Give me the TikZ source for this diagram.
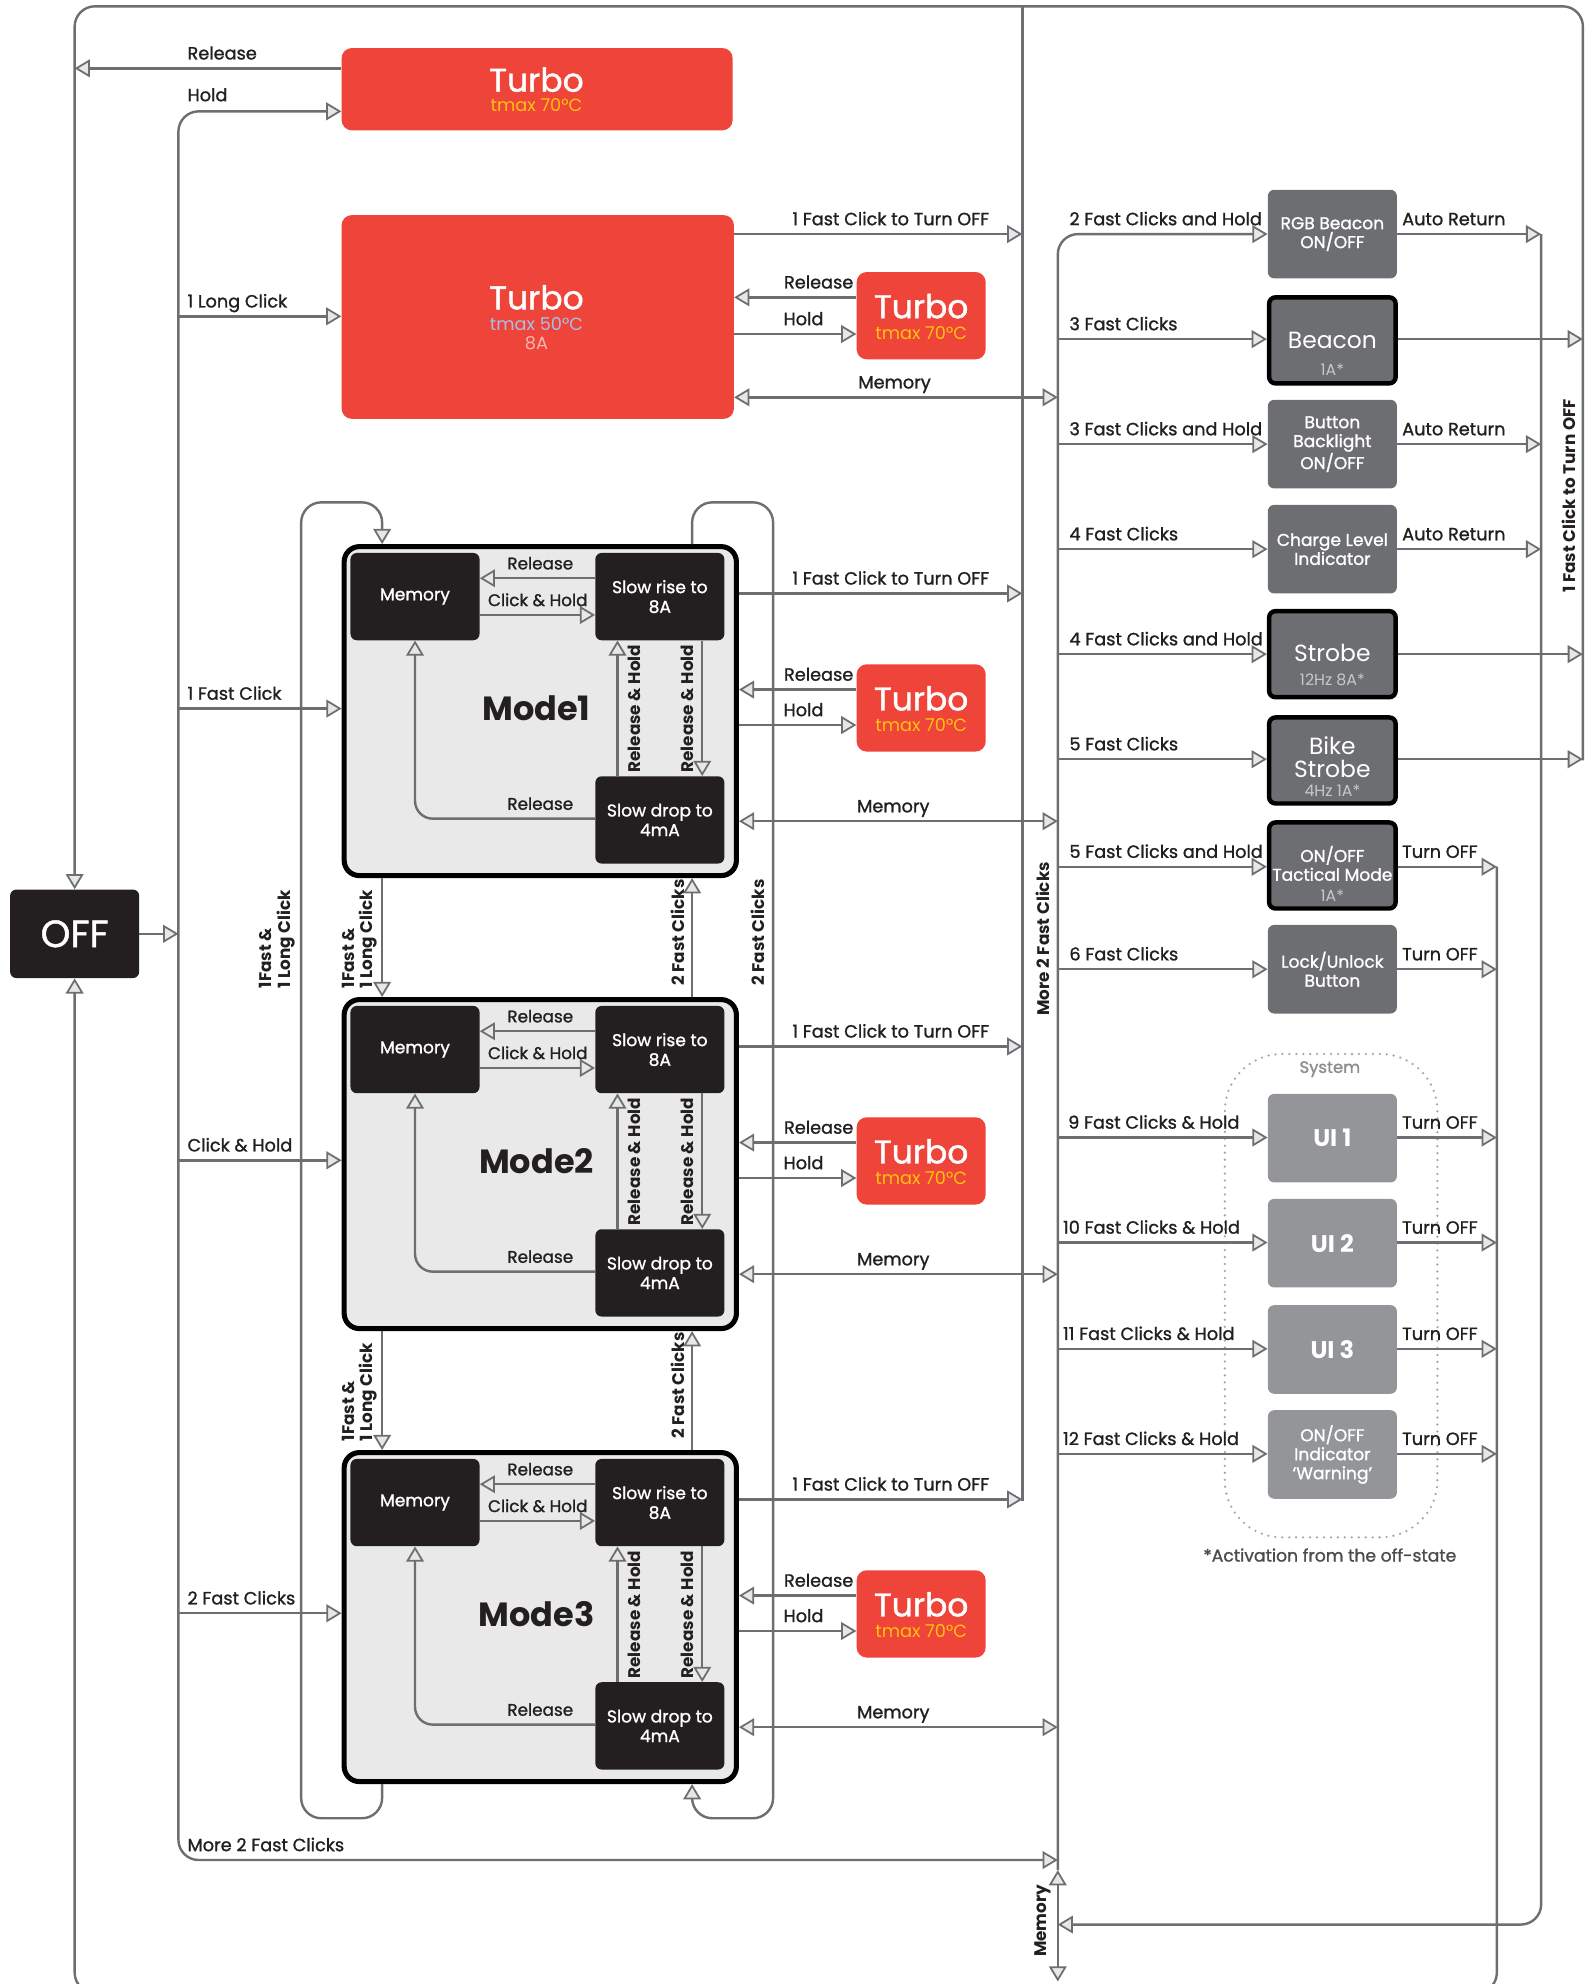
\documentclass[tikz,border=0pt]{standalone}
\usepackage{fontspec}
\setmainfont{Poppins}
\newfontfamily\medfont{Poppins}[FakeBold=1.2]
\usetikzlibrary{arrows.meta}
\definecolor{lineg}{HTML}{6D6E71}
\definecolor{tipfill}{HTML}{E8E6E6}
\definecolor{tred}{HTML}{EE4439}
\definecolor{tyel}{HTML}{FFC20E}
\definecolor{tblue}{HTML}{A7BFE8}
\definecolor{tpink}{HTML}{F8B5AE}
\definecolor{dark}{HTML}{231F20}
\definecolor{midg}{HTML}{6D6E71}
\definecolor{lightg}{HTML}{939598}
\definecolor{modebg}{HTML}{E9E9E9}
\definecolor{subg}{HTML}{C7C8CA}
\tikzset{
  Tp/.tip={Triangle[length=12pt,width=14pt,fill=tipfill,line width=1.4pt]},
  ln/.style={draw=lineg,line width=1.9pt},
  arr/.style={ln,-Tp},
  darr/.style={ln,Tp-Tp},
  lbl/.style={font=\medfont\fontsize{14}{15}\selectfont, text=dark, inner sep=0pt},
  lblin/.style={font=\medfont\fontsize{13.3}{15}\selectfont, text=dark, inner sep=0pt},
  vlbl/.style={font=\fontsize{13.3}{14.5}\selectfont\bfseries, text=dark, inner sep=0pt, rotate=90, align=left},
  redbox/.style={fill=tred, rounded corners=8pt, inner sep=0pt},
  ttl/.style={font=\medfont\fontsize{26}{26}\selectfont, text=white, inner sep=0pt},
  tsub/.style={font=\fontsize{14}{14}\selectfont, inner sep=0pt},
  darkbox/.style={fill=dark, rounded corners=5pt, minimum width=102pt, minimum height=69pt, inner sep=0pt, align=center, text=white, font=\medfont\fontsize{13.5}{15.5}\selectfont},
  gbox/.style={fill=midg, rounded corners=5pt, minimum width=102pt, minimum height=70pt, inner sep=0pt, align=center, text=white, font=\medfont\fontsize{13.5}{15}\selectfont},
  bbox/.style={gbox, draw=black, line width=3.5pt, minimum width=100pt, minimum height=68pt},
  uibox/.style={gbox, fill=lightg, font=\fontsize{19}{20}\selectfont\bfseries},
  bt/.style={font=\fontsize{18.5}{20}\selectfont, text=white, inner sep=0pt},
  bs/.style={font=\fontsize{12.5}{13}\selectfont, text=subg, inner sep=0pt},
  bm/.style={font=\medfont\fontsize{13.5}{15}\selectfont, text=white, inner sep=0pt},
  modebox/.style={draw=black, line width=4pt, fill=modebg, rounded corners=12pt, minimum width=310pt, minimum height=260pt, inner sep=0pt},
}
\begin{document}
\begin{tikzpicture}[x=1pt,y=-1pt]
\useasboundingbox (0,0) rectangle (1261,1568);

% ---------- OFF ----------
\node[fill=dark, rounded corners=5pt, minimum width=102pt, minimum height=70pt, inner sep=0pt, text=white, font=\medfont\fontsize{30}{30}\selectfont] (OFF) at (59,738) {OFF};

% ---------- Turbo boxes ----------
\node[redbox, minimum width=309pt, minimum height=65pt] (turboA) at (424.5,70.5) {};
\node[ttl] (turboAt) at (424,63) {Turbo};
\node[tsub, text=tyel] (turboAs) at (424,83) {tmax 70°C};

\node[redbox, minimum width=310pt, minimum height=161pt] (turboB) at (425,250.5) {};
\node[ttl] (turboBt) at (424,235) {Turbo};
\node[tsub, text=tblue] (turboBs) at (424,256) {tmax 50°C};
\node[tsub, text=tpink] (turboBa) at (424,271) {8A};

\node[redbox, minimum width=102pt, minimum height=69pt] (tS0) at (728,249.5) {};
\node[ttl] (tS0t) at (728,242) {Turbo};
\node[tsub, text=tyel] (tS0s) at (728,263) {tmax 70°C};

% outer frame / OFF returns
\draw[arr, rounded corners=16] (1251,601) -- (1251,5) -- (59,5) -- (OFF.north);
\draw[ln] (808,5) -- (808,1186);
\draw[arr, rounded corners=16] (1183,685) -- (1183,1575) -- (59,1575) -- (OFF.south);
\draw[arr, rounded corners=16] (1218,185) -- (1218,1521) -- (836,1521);

% left bus
\draw[arr] (OFF.east) -- (141,738);
\draw[arr, rounded corners=16] (141,738) -- (141,88) -- (turboA.west |- 0,88);
\draw[arr, rounded corners=16] (141,738) -- (141,1470) -- (836,1470);
\draw[arr] (turboA.west |- 0,54) -- (59,54);
\node[lbl, anchor=base west] (lRel) at (148,47) {Release};
\node[lbl, anchor=base west] (lHold) at (148,80) {Hold};
\draw[arr] (141,250) -- (turboB.west |- 0,250);
\node[lbl, anchor=base west] (lLong) at (148,243) {1 Long Click};
\draw[arr] (141,560) -- (270,560);
\node[lbl, anchor=base west] (lFC) at (148,553) {1 Fast Click};
\draw[arr] (141,917) -- (270,917);
\node[lbl, anchor=base west] (lCH) at (148,910) {Click \& Hold};
\draw[arr] (141,1275) -- (270,1275);
\node[lbl, anchor=base west] (l2FC) at (148,1268) {2 Fast Clicks};
\node[lbl, anchor=base west] (lM2) at (148,1463) {More 2 Fast Clicks};

% Turbo 50 right side
\draw[arr] (turboB.east |- 0,185) -- (808,185);
\node[lbl, anchor=base] (lB1) at (704,178) {1 Fast Click to Turn OFF};
\draw[arr] (tS0.west |- 0,235) -- (turboB.east |- 0,235);
\node[lbl, anchor=base] (lB2) at (647,228) {Release};
\draw[arr] (turboB.east |- 0,264) -- (tS0.west |- 0,264);
\node[lbl, anchor=base] (lB3) at (635,257) {Hold};
\draw[darr] (turboB.east |- 0,314) -- (836,314);
\node[lbl, anchor=base] (lB4) at (707,307) {Memory};

% ---------- Modes ----------
\foreach \k/\T/\nm in {1/430/Mode1, 2/788/Mode2, 3/1146/Mode3}{
  \node[modebox, anchor=north west] (mode\k) at (270,\T) {};
  \node[darkbox] (mem\k) at (328,\T+41.5) {Memory};
  \node[darkbox] (rise\k) at (521.5,\T+41.5) {Slow rise to\\8A};
  \node[darkbox] (drop\k) at (521.5,\T+218) {Slow drop to\\4mA};
  \node[font=\fontsize{26.5}{28}\selectfont\bfseries, text=dark, inner sep=0pt] (title\k) at (424,\T+130) {\nm};
  \draw[arr] (rise\k.west |- 0,\T+27) -- (mem\k.east |- 0,\T+27);
  \node[lblin, anchor=base] (lr\k) at (427,\T+20) {Release};
  \draw[arr] (mem\k.east |- 0,\T+56) -- (rise\k.west |- 0,\T+56);
  \node[lblin, anchor=base] (lc\k) at (425,\T+49) {Click \& Hold};
  \draw[arr] (drop\k.north -| 488,0) -- (rise\k.south -| 488,0);
  \draw[arr] (rise\k.south -| 555,0) -- (drop\k.north -| 555,0);
  \node[vlbl] (rh\k) at (501,\T+130) {Release \& Hold};
  \node[vlbl] (rg\k) at (543,\T+130) {Release \& Hold};
  \draw[arr, rounded corners=14] (drop\k.west |- 0,\T+217) -- (328,\T+217) -- (mem\k.south);
  \node[lblin, anchor=base] (lb\k) at (427,\T+210) {Release};
  % right side
  \draw[arr] (mode\k.east |- 0,\T+39) -- (808,\T+39);
  \node[lbl, anchor=base] (lo\k) at (704,\T+32) {1 Fast Click to Turn OFF};
  \node[redbox, minimum width=102pt, minimum height=69pt] (tS\k) at (728,\T+129.5) {};
  \node[ttl] (tSt\k) at (728,\T+122) {Turbo};
  \node[tsub, text=tyel] (tSs\k) at (728,\T+143) {tmax 70°C};
  \draw[arr] (tS\k.west |- 0,\T+115) -- (mode\k.east |- 0,\T+115);
  \node[lbl, anchor=base] (lrr\k) at (647,\T+108) {Release};
  \draw[arr] (mode\k.east |- 0,\T+143) -- (tS\k.west |- 0,\T+143);
  \node[lbl, anchor=base] (lh\k) at (635,\T+136) {Hold};
  \draw[darr] (mode\k.east |- 0,\T+219) -- (836,\T+219);
  \node[lbl, anchor=base] (lm\k) at (706,\T+212) {Memory};
}

% between modes
\draw[arr] (mode1.south -| 302,0) -- (mode2.north -| 302,0);
\draw[arr] (mode2.south -| 302,0) -- (mode3.north -| 302,0);
\draw[arr] (mode2.north -| 547,0) -- (mode1.south -| 547,0);
\draw[arr] (mode3.north -| 547,0) -- (mode2.south -| 547,0);
\draw[arr, rounded corners=16] (mode3.south -| 302,0) -- (302,1437) -- (238,1437) -- (238,397) -- (302,397) -- (mode1.north -| 302,0);
\draw[arr, rounded corners=16] (mode1.north -| 547,0) -- (547,397) -- (611,397) -- (611,1437) -- (547,1437) -- (mode3.south -| 547,0);
\node[vlbl] (v1) at (219,742) {1Fast \&\\1 Long Click};
\node[vlbl] (v2) at (284,742) {1Fast \&\\1 Long Click};
\node[vlbl] (v3) at (284,1100) {1Fast \&\\1 Long Click};
\node[vlbl] (v4) at (536,737) {2 Fast Clicks};
\node[vlbl] (v5) at (599,737) {2 Fast Clicks};
\node[vlbl] (v6) at (536,1095) {2 Fast Clicks};

% ---------- right column ----------
\node[gbox] (rgb) at (1053,185) {RGB Beacon\\ON/OFF};
\node[bbox] (beacon) at (1053,269) {};
\node[bt] (beaconT) at (1053,269) {Beacon};
\node[bs] (beaconS) at (1053,292) {1A*};
\node[gbox] (backl) at (1053,351) {Button\\Backlight\\ON/OFF};
\node[gbox] (charge) at (1053,434) {Charge Level\\Indicator};
\node[bbox] (strobe) at (1053,517) {};
\node[bt] (strobeT) at (1053,516) {Strobe};
\node[bs] (strobeS) at (1053,537) {12Hz 8A*};
\node[bbox] (bike) at (1053,601) {};
\node[bt] (bikeT1) at (1053,589) {Bike};
\node[bt] (bikeT2) at (1053,608) {Strobe};
\node[bs] (bikeS) at (1053,625) {4Hz 1A*};
\node[bbox] (tact) at (1053,684) {};
\node[bm] (tactT1) at (1053,676) {ON/OFF};
\node[bm] (tactT2) at (1053,691) {Tactical Mode};
\node[bs] (tactS) at (1053,708) {1A*};
\node[gbox] (lock) at (1053,766) {Lock/Unlock\\Button};
\node[uibox] (ui1) at (1053,899.5) {UI 1};
\node[uibox] (ui2) at (1053,982.5) {UI 2};
\node[uibox] (ui3) at (1053,1066.5) {UI 3};
\node[gbox, fill=lightg] (warn) at (1053,1149.5) {ON/OFF\\Indicator\\‘Warning’};

\draw[black!35, line width=2pt, line cap=round, dash pattern=on 0pt off 5.5pt, rounded corners=45] (968,833) rectangle (1136,1215);
\node[font=\medfont\fontsize{13}{14}\selectfont, text=black!45, inner sep=0pt] (sys) at (1051,845) {System};
\node[font=\medfont\fontsize{13.6}{14}\selectfont, text=black!70, inner sep=0pt] (act) at (1051,1229) {*Activation from the off-state};

% memory bus
\draw[arr, rounded corners=16] (836,1478) -- (836,185) -- (rgb.west);
\draw[darr] (836,1478) -- (836,1566);
\node[vlbl] (vmem) at (824,1518) {Memory};
\node[vlbl] (vm2) at (824,742) {More 2 Fast Clicks};
\node[vlbl] (vfc) at (1240,392) {1 Fast Click to Turn OFF};

\foreach \n/\y/\x/\t in {beacon/268/845/3 Fast Clicks, backl/351/845/3 Fast Clicks and Hold, charge/434/845/4 Fast Clicks, strobe/517/845/4 Fast Clicks and Hold, bike/600/845/5 Fast Clicks, tact/685/845/5 Fast Clicks and Hold, lock/766/845/6 Fast Clicks, ui1/899/844/9 Fast Clicks \& Hold, ui2/982/840/10 Fast Clicks \& Hold, ui3/1066/840/11 Fast Clicks \& Hold, warn/1149/840/12 Fast Clicks \& Hold}{
  \draw[arr] (836,\y) -- (\n.west |- 0,\y);
  \node[lbl, anchor=base west] (l\n) at (\x,\y-7) {\t};
}
\node[lbl, anchor=base west] (lrgb) at (845,178) {2 Fast Clicks and Hold};

% outputs
\foreach \n/\y in {rgb/185, backl/351, charge/434}{
  \draw[arr] (\n.east |- 0,\y) -- (1218,\y);
  \node[lbl, anchor=base west] (o\n) at (1108,\y-7) {Auto Return};
}
\foreach \n/\y in {beacon/268, strobe/517, bike/600}{
  \draw[arr] (\n.east |- 0,\y) -- (1251,\y);
}
\foreach \n/\y in {tact/685, lock/766, ui1/899, ui2/982, ui3/1066, warn/1149}{
  \draw[arr] (\n.east |- 0,\y) -- (1183,\y);
  \node[lbl, anchor=base west] (o\n) at (1108,\y-7) {Turn OFF};
}
\end{tikzpicture}
\end{document}
